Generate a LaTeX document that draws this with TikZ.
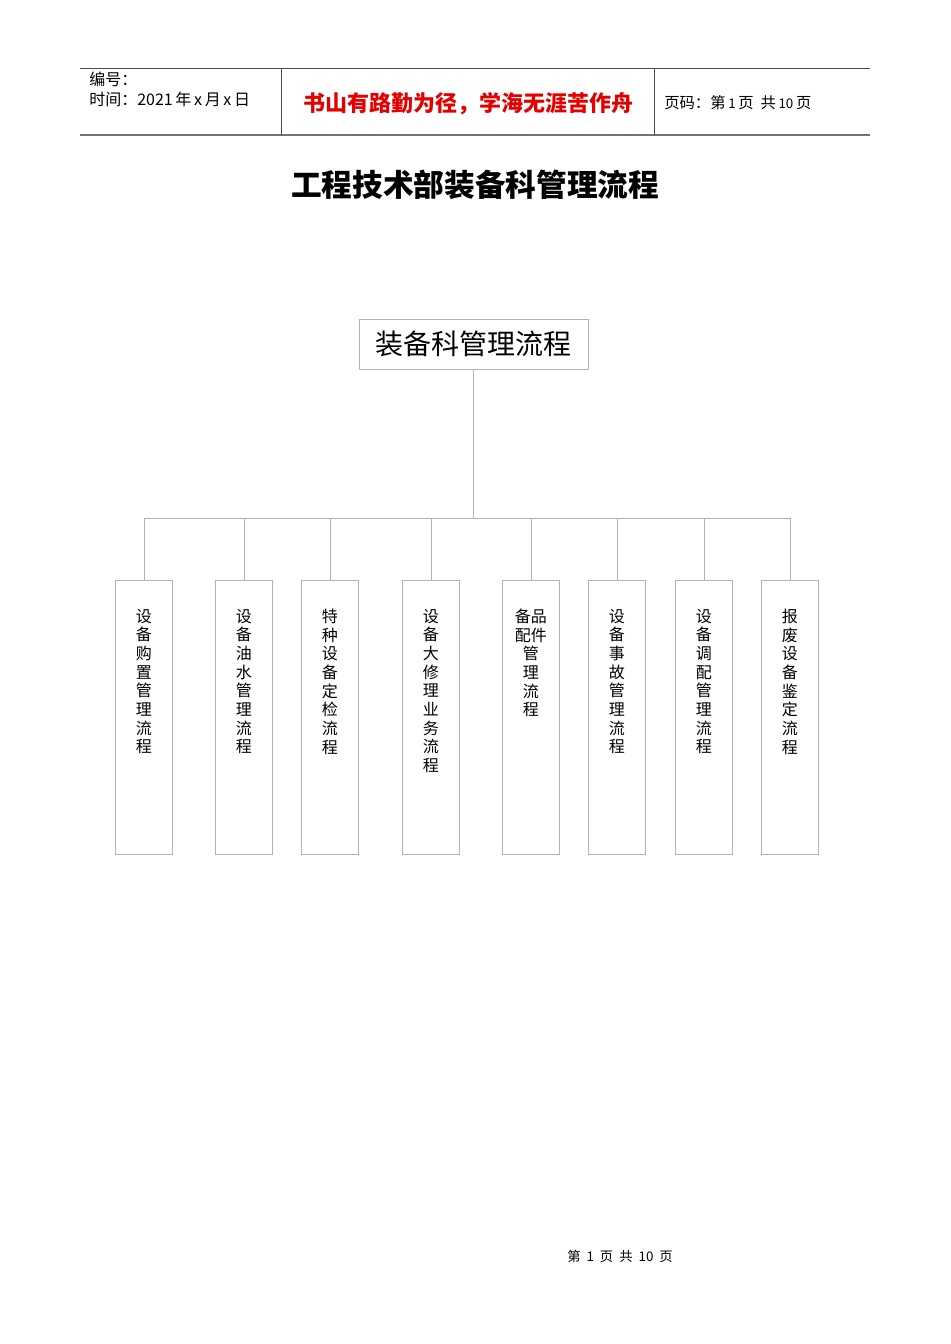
\documentclass[tikz,border=0pt]{standalone}
\usepackage{fontspec}
\setmainfont{Liberation Sans}
\newfontfamily\cjk{Noto Sans CJK SC}
\tikzset{
  hline/.style={draw=black!70, line width=0.6pt},
  conn/.style={draw=black!30, line width=0.6pt},
  box/.style={draw=black!30, line width=0.6pt, minimum width=42.75pt, minimum height=205.5pt, inner sep=0pt, anchor=north west},
  vtext/.style={font=\cjk\fontsize{12}{14}\selectfont, align=center, anchor=north, inner sep=0pt},
}
\begin{document}
\begin{tikzpicture}[x=0.75pt,y=-0.75pt]
\useasboundingbox[fill=white] (0,0) rectangle (950,1344);
% header
\draw[hline] (80,68) -- (870,68);
\draw[draw=black!55, line width=1.5pt] (80,135) -- (870,135);
\draw[hline] (281,68) -- (281,135);
\draw[hline] (654,68) -- (654,135);
\node[anchor=west, inner sep=0pt, font=\cjk\fontsize{12}{13}\selectfont] (hnum) at (89,79) {编号：};
\node[anchor=west, inner sep=0pt, font=\cjk\fontsize{12}{13}\selectfont] (hdate) at (89,99) {时间：2021\kern2pt 年\kern2pt x\kern2pt 月\kern2pt x\kern2pt 日};
\node[inner sep=0pt, text=red!90!black, font=\cjk\bfseries\fontsize{16.5}{18}\selectfont] (hmotto) at (468,104) {书山有路勤为径，学海无涯苦作舟};
\node[anchor=west, inner sep=0pt, font=\cjk\fontsize{11.5}{13}\selectfont] (hpage) at (664,103) {页码：第\kern2pt{\fontsize{10}{11}\selectfont 1}\kern2pt 页\ \ 共\kern2pt{\fontsize{10}{11}\selectfont 10}\kern2pt 页};
% title
\node[inner sep=0pt, font=\cjk\bfseries\fontsize{23}{26}\selectfont] (title) at (475,185) {工程技术部装备科管理流程};
% root
\node[draw=black!30, line width=0.6pt, minimum width=171.75pt, minimum height=37.5pt, inner sep=0pt, font=\cjk\fontsize{21}{24}\selectfont] (root) at (473.5,344) {装备科管理流程};
% boxes
\node[box] (b1) at (115,580) {};
\node[box] (b2) at (215,580) {};
\node[box] (b3) at (301,580) {};
\node[box] (b4) at (402,580) {};
\node[box] (b5) at (502,580) {};
\node[box] (b6) at (588,580) {};
\node[box] (b7) at (675,580) {};
\node[box] (b8) at (761,580) {};
\node[vtext] (t1) at ([yshift=-21.5pt]b1.north) {设\\备\\购\\置\\管\\理\\流\\程};
\node[vtext] (t2) at ([yshift=-21.5pt]b2.north) {设\\备\\油\\水\\管\\理\\流\\程};
\node[vtext] (t3) at ([yshift=-21.5pt]b3.north) {特\\种\\设\\备\\定\\检\\流\\程};
\node[vtext] (t4) at ([yshift=-21.5pt]b4.north) {设\\备\\大\\修\\理\\业\\务\\流\\程};
\node[vtext] (t5) at ([yshift=-21.5pt]b5.north) {备品\\配件\\管\\理\\流\\程};
\node[vtext] (t6) at ([yshift=-21.5pt]b6.north) {设\\备\\事\\故\\管\\理\\流\\程};
\node[vtext] (t7) at ([yshift=-21.5pt]b7.north) {设\\备\\调\\配\\管\\理\\流\\程};
\node[vtext] (t8) at ([yshift=-21.5pt]b8.north) {报\\废\\设\\备\\鉴\\定\\流\\程};
% connectors
\draw[conn] (root.south) -- (473.5,518) coordinate (bus);
\draw[conn] (b1.north |- bus) -- (b8.north |- bus);
\foreach \b in {b1,b2,b3,b4,b5,b6,b7,b8} {
  \draw[conn] (\b.north |- bus) -- (\b.north);
}
% footer
\node[inner sep=0pt, font=\cjk\fontsize{10}{12}\selectfont] (foot) at (620,1256) {第\ \ 1\ \ 页\ \ 共\ \ 10\ \ 页};
\end{tikzpicture}
\end{document}
